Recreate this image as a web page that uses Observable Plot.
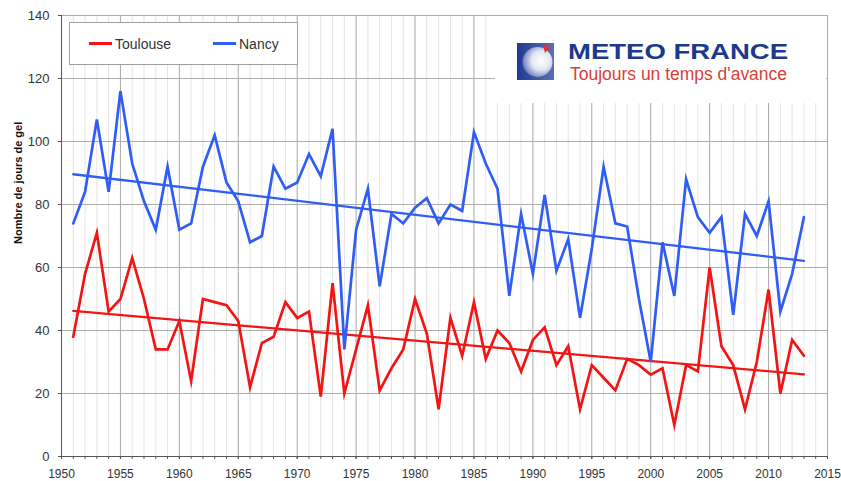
<!DOCTYPE html>
<html><head><meta charset="utf-8">
<script src="https://cdn.jsdelivr.net/npm/d3@7"></script>
<script src="https://cdn.jsdelivr.net/npm/@observablehq/plot@0.6"></script>
<style>
body{margin:0;background:#fff;font-family:"Liberation Sans",Arial,sans-serif}
#wrap{position:relative;width:841px;height:481px;overflow:hidden;background:#fff}
#wrap svg.plot{display:block}
#legend{position:absolute;left:69px;top:22px;width:229px;height:43px;background:#fff;border:1px solid #a0a0a0;box-sizing:border-box}
.lg{position:absolute;top:0;height:41px;display:flex;align-items:center;font-size:14px;color:#333}
.sw{display:inline-block;width:23px;height:3px;margin-right:3px}
#logo{position:absolute;left:495px;top:16px;width:331px;height:87px;background:#fff}
</style></head><body>
<div id="wrap"></div>
<script>
// ---- data ----
const years = [1951,1952,1953,1954,1955,1956,1957,1958,1959,1960,1961,1962,1963,1964,1965,1966,1967,1968,1969,1970,
  1971,1972,1973,1974,1975,1976,1977,1978,1979,1980,1981,1982,1983,1984,1985,1986,1987,1988,1989,1990,
  1991,1992,1993,1994,1995,1996,1997,1998,1999,2000,2001,2002,2003,2004,2005,2006,2007,2008,2009,2010,
  2011,2012,2013];
const toulouse = [38,58,71,46,50,63,50,34,34,43,24,50,49,48,43,22,36,38,49,44,
  46,19,55,20,34,48,21,28,34,50,39,15,44,32,49,31,40,36,27,37,
  41,29,35,15,29,25,21,31,29,26,28,10,29,27,60,35,29,15,30,53,
  20,37,32];
const nancy = [74,84,107,84,116,93,81,72,92,72,74,92,102,87,81,68,70,92,85,87,
  96,89,104,34,72,85,54,77,74,79,82,74,80,78,103,93,85,51,77,58,
  83,59,69,44,66,92,74,73,50,30,68,51,88,76,71,76,45,77,70,81,
  46,58,76];
const trendYears = [1951, 2013];
const toulouseTrend = [46.2, 26.1];
const nancyTrend = [89.6, 62.1];
const seriesNames = ["Toulouse", "Nancy"];
const seriesColors = ["#f41414", "#2f5df5"];
const xTicks = [1950,1955,1960,1965,1970,1975,1980,1985,1990,1995,2000,2005,2010,2015];
const yTicks = [0,20,40,60,80,100,120,140];
const yLabel = "Nombre de jours de gel";
const logoTitle = "METEO FRANCE";
const logoTagline = "Toujours un temps d'avance";

// ---- tables built from the arrays ----
const rows = years.flatMap((yr, i) => [
  {year: yr, value: toulouse[i], series: seriesNames[0]},
  {year: yr, value: nancy[i], series: seriesNames[1]}
]);
const trendRows = trendYears.flatMap((yr, i) => [
  {year: yr, value: toulouseTrend[i], series: seriesNames[0]},
  {year: yr, value: nancyTrend[i], series: seriesNames[1]}
]);
const allYears = d3.range(xTicks[0], xTicks[xTicks.length - 1] + 1);
const minorYears = allYears.filter(y => !xTicks.includes(y));

const chart = Plot.plot({
  width: 841, height: 481,
  marginLeft: 61, marginRight: 14, marginTop: 15, marginBottom: 25,
  x: {domain: [xTicks[0], xTicks[xTicks.length - 1]], label: null},
  y: {domain: [yTicks[0], yTicks[yTicks.length - 1]], label: null},
  color: {domain: seriesNames, range: seriesColors},
  style: {fontFamily: "'Liberation Sans', Arial, sans-serif", fontSize: "12px", color: "#333", background: "#fff"},
  marks: [
    Plot.ruleX(minorYears, {stroke: "#e4e4e4", strokeWidth: 1}),
    Plot.ruleX(xTicks, {stroke: "#a8a8a8", strokeWidth: 1}),
    Plot.ruleY(yTicks, {stroke: "#acacac", strokeWidth: 1}),
    Plot.axisX({ticks: allYears, tickSize: 3, tickFormat: () => "", stroke: "#555"}),
    Plot.axisX({ticks: xTicks, tickSize: 3, tickPadding: 10, tickFormat: d => String(d), fontSize: 12, fill: "#333", stroke: "#555"}),
    Plot.axisY({ticks: yTicks, tickSize: 3, tickPadding: 9, fontSize: 13, fill: "#333", stroke: "#555"}),
    Plot.ruleX([xTicks[0]], {stroke: "#555", strokeWidth: 1}),
    Plot.ruleY([yTicks[0]], {stroke: "#555", strokeWidth: 1}),
    Plot.line(trendRows, {x: "year", y: "value", z: "series", stroke: "series", strokeWidth: 2.3}),
    Plot.line(rows, {x: "year", y: "value", z: "series", stroke: "series", strokeWidth: 2.7, strokeLinejoin: "miter", strokeMiterlimit: 6}),
    Plot.text([yLabel], {frameAnchor: "left", dx: -43, dy: 8, rotate: -90, fontWeight: "bold", fontSize: 11, fill: "#111"})
  ]
});
const wrap = document.getElementById("wrap");
wrap.appendChild(chart);

// legend box
const legend = document.createElement("div");
legend.id = "legend";
legend.innerHTML =
  `<div class="lg" style="left:19px"><span class="sw" style="background:${seriesColors[0]}"></span>${seriesNames[0]}</div>` +
  `<div class="lg" style="left:143px"><span class="sw" style="background:${seriesColors[1]}"></span>${seriesNames[1]}</div>`;
wrap.appendChild(legend);

// logo
const logo = document.createElement("div");
logo.id = "logo";
logo.innerHTML = `<svg width="331" height="87" xmlns="http://www.w3.org/2000/svg">
  <defs>
    <linearGradient id="sq" x1="0" y1="0" x2="1" y2="0">
      <stop offset="0" stop-color="#1f3a91"/><stop offset="1" stop-color="#5b6fb6"/>
    </linearGradient>
    <radialGradient id="sp" cx="0.62" cy="0.45" r="0.7">
      <stop offset="0" stop-color="#ffffff"/><stop offset="0.45" stop-color="#e4e7f3"/><stop offset="1" stop-color="#4b60ad"/>
    </radialGradient>
  </defs>
  <rect x="22" y="27" width="37" height="37" fill="url(#sq)"/>
  <circle cx="42.5" cy="46" r="15" fill="url(#sp)"/>
  <path d="M48 29 L55 31 L50 37 Z" fill="#e5322d"/>
  <text x="73" y="43" font-family="'Liberation Sans', Arial, sans-serif" font-weight="bold" font-size="22.5" fill="#1b3a8e" textLength="220" lengthAdjust="spacingAndGlyphs">${logoTitle}</text>
  <text x="75" y="63.5" font-family="'Liberation Sans', Arial, sans-serif" font-size="17.5" fill="#d8413a" textLength="217" lengthAdjust="spacingAndGlyphs">${logoTagline}</text>
</svg>`;
wrap.appendChild(logo);
</script>
</body></html>
